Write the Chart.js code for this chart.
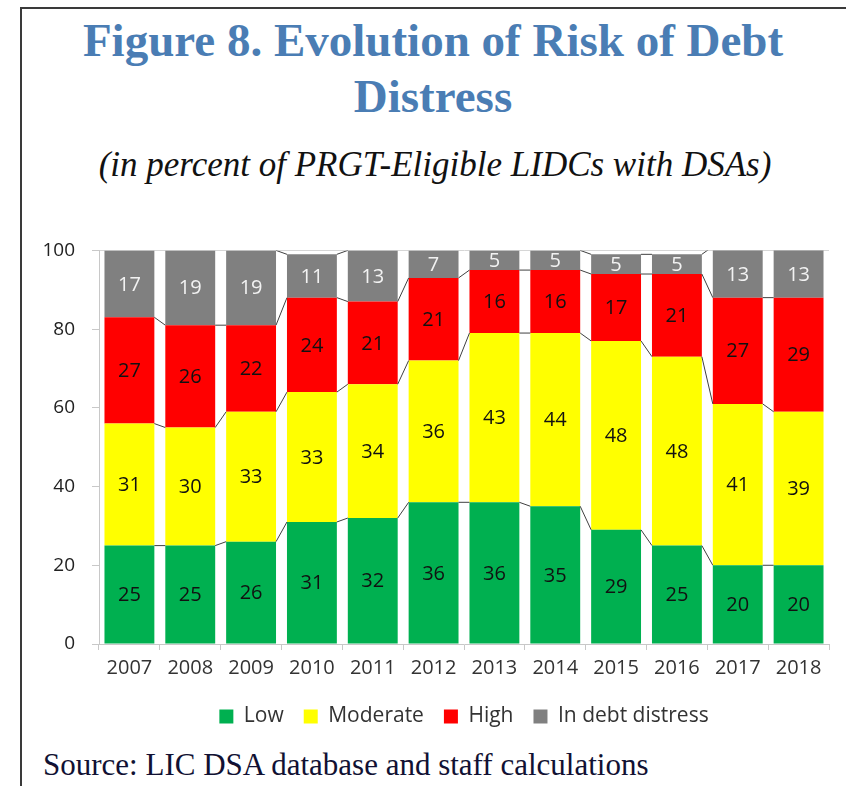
<!DOCTYPE html>
<html>
<head>
<meta charset="utf-8">
<script src="https://cdn.jsdelivr.net/npm/chart.js@4"></script>
<style>
  body { margin: 0; background: #fff; }
  #page { position: relative; width: 846px; height: 786px; overflow: hidden; }
  #frame { position: absolute; left: 20px; top: 7px; width: 840px; height: 800px;
           border-left: 2px solid #3a3a3a; border-top: 2px solid #3a3a3a; }
  .title { position: absolute; left: 20px; width: 826px; text-align: center;
           font-family: "Liberation Serif", "Times New Roman", serif; font-weight: bold;
           color: #4a7db4; font-size: 47px; line-height: 56px; top: 12px; }
  .sub { position: absolute; left: 22px; width: 826px; text-align: center;
         font-family: "Liberation Serif", serif; font-style: italic; font-size: 35px; top: 145px; color: #111; }
  .source { position: absolute; left: 43px; top: 747px; font-family: "Liberation Serif", serif;
            font-size: 31px; color: #111133; }
  #wrap { position: absolute; left: 0; top: 222px; width: 846px; height: 515px; }
</style>
</head>
<body>
<div id="page">
  <div id="frame"></div>
  <div class="title">Figure 8. Evolution of Risk of Debt<br>Distress</div>
  <div class="sub">(in percent of PRGT-Eligible LIDCs with DSAs)</div>
  <div id="wrap"><canvas id="risk-chart"></canvas></div>
  <div class="source">Source: LIC DSA database and staff calculations</div>
</div>
<script>
  var years = ["2007", "2008", "2009", "2010", "2011", "2012", "2013", "2014", "2015", "2016", "2017", "2018"];
  var low = [25, 25, 26, 31, 32, 36, 36, 35, 29, 25, 20, 20];
  var moderate = [31, 30, 33, 33, 34, 36, 43, 44, 48, 48, 41, 39];
  var high = [27, 26, 22, 24, 21, 21, 16, 16, 17, 21, 27, 29];
  var distress = [17, 19, 19, 11, 13, 7, 5, 5, 5, 5, 13, 13];
  var yTicks = [0, 20, 40, 60, 80, 100];

  var sansFont = "'Open Sans', 'Noto Sans', sans-serif";

  // connector lines between the tops of adjacent segments + value labels
  var seriesLines = {
    id: 'seriesLines',
    afterDatasetsDraw: function (chart) {
      var ctx = chart.ctx, area = chart.chartArea;
      ctx.save();
      ctx.beginPath();
      ctx.rect(area.left, area.top, area.right - area.left, area.bottom - area.top);
      ctx.clip();
      chart.data.datasets.forEach(function (ds, d) {
        var meta = chart.getDatasetMeta(d);
        ctx.strokeStyle = '#404040';
        ctx.lineWidth = 1;
        for (var i = 0; i < meta.data.length - 1; i++) {
          var a = meta.data[i], b = meta.data[i + 1];
          if (a.y <= area.top + 1 && b.y <= area.top + 1) continue;
          ctx.beginPath();
          ctx.moveTo(a.x + a.width / 2, a.y);
          ctx.lineTo(b.x - b.width / 2, b.y);
          ctx.stroke();
        }
        ctx.font = "20px " + sansFont;
        ctx.textAlign = 'center';
        ctx.textBaseline = 'middle';
        ctx.fillStyle = ds.labelColor;
        meta.data.forEach(function (bar, i) {
          var top = Math.max(bar.y, area.top);
          ctx.fillText(ds.data[i], bar.x, (top + bar.base) / 2 + 1);
        });
      });
      ctx.restore();
    }
  };

  var riskChart = new Chart(document.getElementById("risk-chart"), {
    type: 'bar',
    data: {
      labels: years,
      datasets: [
        { label: "Low", data: low, backgroundColor: "#00b050", labelColor: "#111" },
        { label: "Moderate", data: moderate, backgroundColor: "#ffff00", labelColor: "#111" },
        { label: "High", data: high, backgroundColor: "#ff0000", labelColor: "#111" },
        { label: "In debt distress", data: distress, backgroundColor: "#808080", labelColor: "#f2f2f2" }
      ]
    },
    options: {
      responsive: true,
      maintainAspectRatio: false,
      animation: false,
      datasets: { bar: { barPercentage: 0.82, categoryPercentage: 1 } },
      layout: { padding: { top: 20, right: 17, left: 0, bottom: 0 } },
      scales: {
        x: {
          stacked: true,
          grid: { offset: true, drawOnChartArea: false, tickLength: 6, color: '#c8c8c8' },
          border: { color: '#c8c8c8' },
          ticks: { color: '#333', font: { family: sansFont, size: 20 }, padding: 6, maxRotation: 0 }
        },
        y: {
          stacked: true,
          min: 0,
          max: 100,
          afterBuildTicks: function (s) { s.ticks = yTicks.map(function (v) { return { value: v }; }); },
          afterFit: function (s) { s.width = 99; },
          grid: {
            tickLength: 7,
            tickColor: '#c8c8c8',
            color: function (c) { return c.tick && c.tick.value === 100 ? '#d6d6d6' : 'transparent'; }
          },
          border: { color: '#c8c8c8' },
          ticks: { color: '#222', font: { family: sansFont, size: 19 }, padding: 17 }
        }
      },
      plugins: {
        legend: {
          position: 'bottom',
          fullSize: false,
          labels: {
            boxWidth: 14, boxHeight: 14, padding: 20, color: '#333',
            font: { family: sansFont, size: 21 }
          }
        },
        tooltip: { enabled: false }
      }
    },
    plugins: [seriesLines]
  });
</script>
</body>
</html>
